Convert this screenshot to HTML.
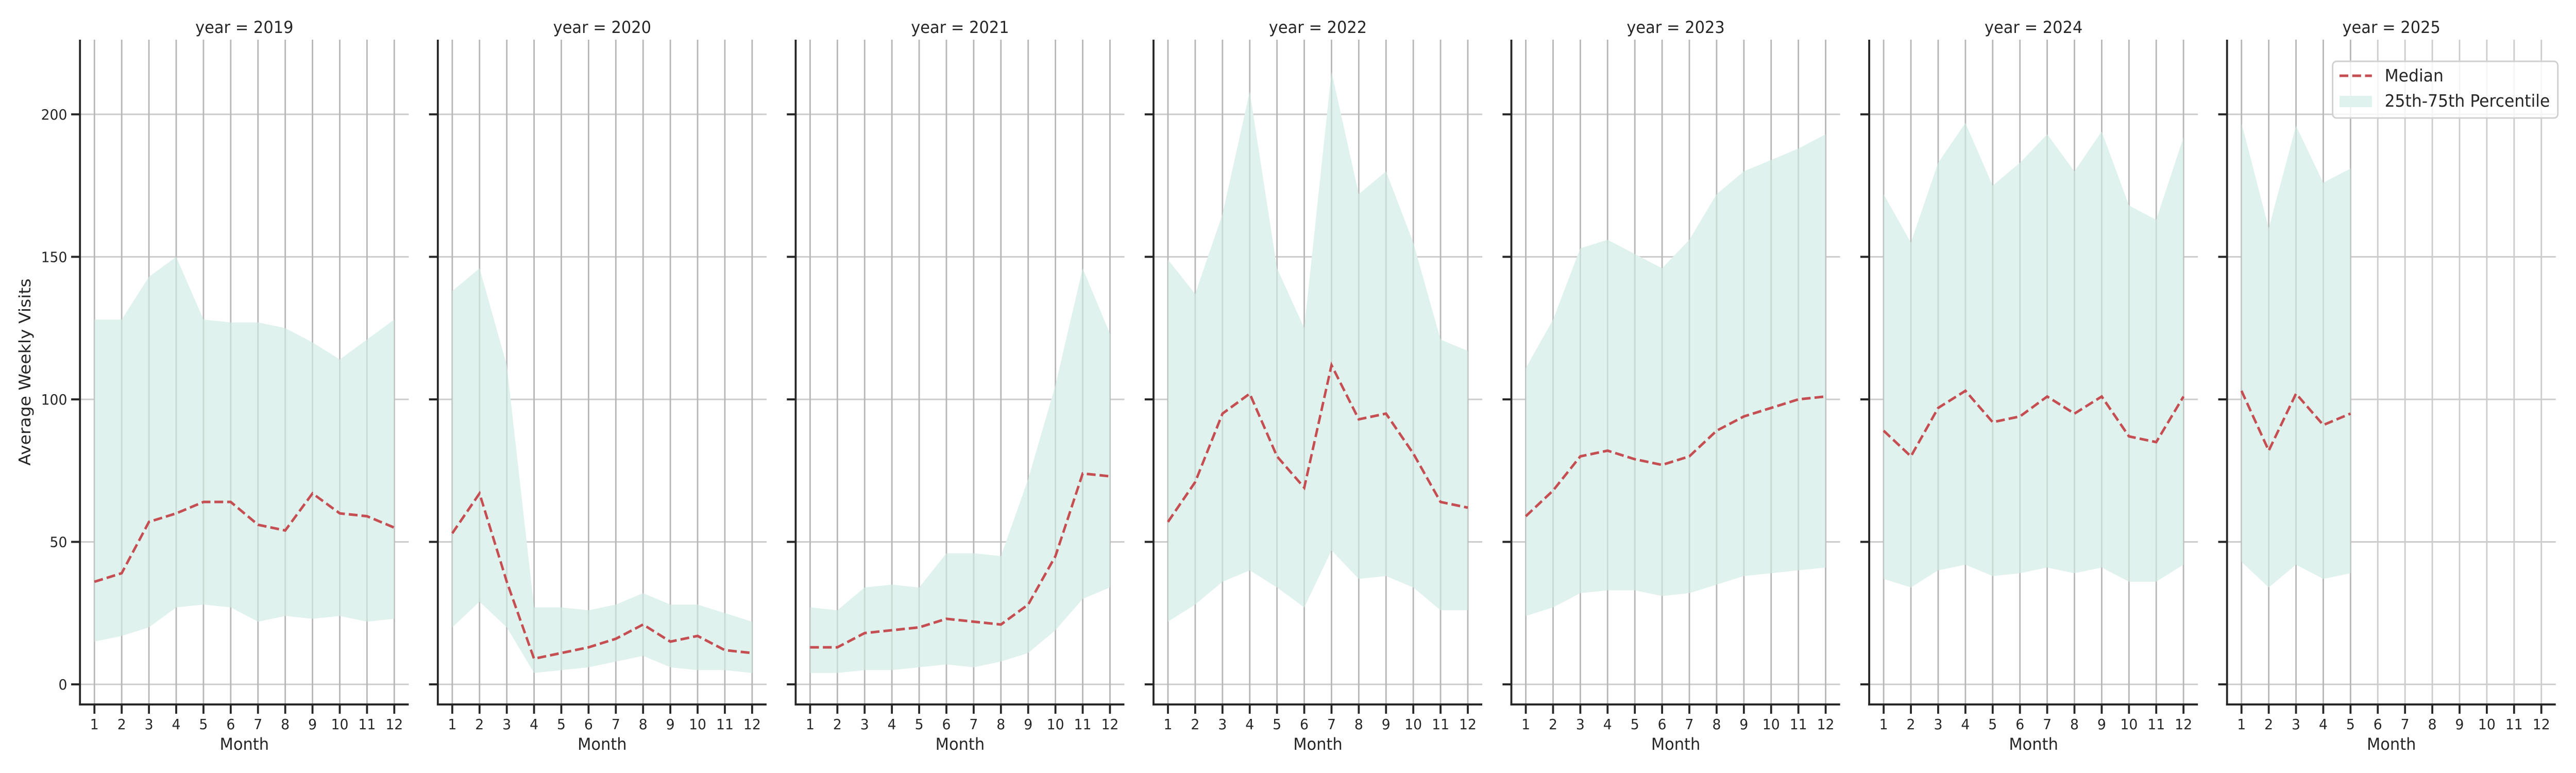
<!DOCTYPE html>
<html><head><meta charset="utf-8">
<style>
html,body{margin:0;padding:0;background:#fff;overflow:hidden;width:100%;height:100%;}
svg{display:block;position:fixed;left:0;top:0;width:100vw;height:100vh;font-family:"DejaVu Sans","Liberation Sans",sans-serif;}
</style></head>
<body>
<svg id="chart" viewBox="0 0 5250 1500" preserveAspectRatio="none" xmlns="http://www.w3.org/2000/svg">
<text x="0" y="0" transform="translate(62,722) rotate(-90)" text-anchor="middle" font-size="33" fill="#262626">Average Weekly Visits</text>
<g id="panels"></g>
<g>
<rect x="4754" y="119" width="459" height="110" rx="8" fill="#fff" fill-opacity="0.8" stroke="#d0d0d0" stroke-width="3"/>
<line x1="4768" y1="147" x2="4834" y2="147" stroke="#c44e52" stroke-width="5" stroke-dasharray="18,8"/>
<text x="4860" y="158" font-size="33" fill="#262626">Median</text>
<rect x="4768" y="186" width="66" height="22" fill="#e0f2ed"/>
<text x="4860" y="207" font-size="33" fill="#262626">25th-75th Percentile</text>
</g>
</svg>
<script>
const years = [2019,2020,2021,2022,2023,2024,2025];
const months = [1,2,3,4,5,6,7,8,9,10,11,12];
const yTicks = [0,50,100,150,200];
const median2019=[36,39,57,60,64,64,56,54,67,60,59,55];
const upper2019=[128,128,143,150,128,127,127,125,120,114,121,128];
const lower2019=[15,17,20,27,28,27,22,24,23,24,22,23];
const median2020=[53,67,36,9,11,13,16,21,15,17,12,11];
const upper2020=[138,146,112,27,27,26,28,32,28,28,25,22];
const lower2020=[20,29,20,4,5,6,8,10,6,5,5,4];
const median2021=[13,13,18,19,20,23,22,21,28,45,74,73];
const upper2021=[27,26,34,35,34,46,46,45,72,105,146,123];
const lower2021=[4,4,5,5,6,7,6,8,11,19,30,34];
const median2022=[57,71,95,102,80,69,112,93,95,81,64,62];
const upper2022=[149,137,165,208,146,125,215,172,180,155,121,117];
const lower2022=[22,28,36,40,34,27,47,37,38,34,26,26];
const median2023=[59,68,80,82,79,77,80,89,94,97,100,101];
const upper2023=[111,128,153,156,151,146,156,172,180,184,188,193];
const lower2023=[24,27,32,33,33,31,32,35,38,39,40,41];
const median2024=[89,80,97,103,92,94,101,95,101,87,85,101];
const upper2024=[172,155,183,197,175,183,193,180,194,168,163,192];
const lower2024=[37,34,40,42,38,39,41,39,41,36,36,42];
const median2025=[103,82,102,91,95];
const upper2025=[197,160,196,176,181];
const lower2025=[43,34,42,37,39];
const medians=[median2019,median2020,median2021,median2022,median2023,median2024,median2025];
const uppers=[upper2019,upper2020,upper2021,upper2022,upper2023,upper2024,upper2025];
const lowers=[lower2019,lower2020,lower2021,lower2022,lower2023,lower2024,lower2025];

const NS="http://www.w3.org/2000/svg";
const top0=77, bot0=1367, pw=670, step=729.3, left0=163;
const yMin=-7.05, yMax=226.2, xMin=0.47, xMax=12.53;
function ys(v){return bot0-(v-yMin)/(yMax-yMin)*(bot0-top0);}
function mk(tag,attrs,parent){const e=document.createElementNS(NS,tag);for(const k in attrs)e.setAttribute(k,attrs[k]);parent.appendChild(e);return e;}
const root=document.getElementById('panels');
years.forEach((yr,i)=>{
  const L=left0+i*step;
  const xs=m=>L+(m-xMin)/(xMax-xMin)*pw;
  const g=mk('g',{},root);
  
  
  months.forEach(m=>{const l=mk('line',{x1:xs(m),x2:xs(m),y1:top0,y2:bot0,stroke:'#cccccc','stroke-width':3},g);
    
    });
  yTicks.forEach(t=>{const l=mk('line',{x1:L,x2:L+pw,y1:ys(t),y2:ys(t),stroke:'#cccccc','stroke-width':3},g);
    
    });
  const up=uppers[i], lo=lowers[i], md=medians[i];
  let pts=up.map((v,j)=>xs(months[j])+','+ys(v));
  for(let j=lo.length-1;j>=0;j--)pts.push(xs(months[j])+','+ys(lo[j]));
  const band=mk('polygon',{points:pts.join(' '),fill:'#e0f2ed'},g);
  
  
  months.forEach(m=>{if(m<=up.length)mk('line',{x1:xs(m),x2:xs(m),y1:top0,y2:bot0,stroke:'#000','stroke-opacity':0.1,'stroke-width':3},g);});
  const med=mk('polyline',{points:md.map((v,j)=>xs(months[j])+','+ys(v)).join(' '),fill:'none',stroke:'#c44e52','stroke-width':5,'stroke-dasharray':'18,8'},g);
  
  
  mk('line',{x1:L,x2:L,y1:top0,y2:bot0+2,stroke:'#262626','stroke-width':4},g);
  mk('line',{x1:L-2,x2:L+pw,y1:bot0,y2:bot0,stroke:'#262626','stroke-width':4},g);
  yTicks.forEach(t=>{mk('line',{x1:L-18,x2:L,y1:ys(t),y2:ys(t),stroke:'#262626','stroke-width':4},g);
    if(i===0){const tx=mk('text',{x:L-26,y:ys(t)+10,'text-anchor':'end','font-size':28,fill:'#262626'},g);tx.textContent=t;
      
      }});
  months.forEach(m=>{mk('line',{x1:xs(m),x2:xs(m),y1:bot0,y2:bot0+18,stroke:'#262626','stroke-width':4},g);
    const tx=mk('text',{x:xs(m),y:1415,'text-anchor':'middle','font-size':28,fill:'#262626'},g);tx.textContent=m;
    
    });
  const xt=mk('text',{x:L+pw/2,y:1455,'text-anchor':'middle','font-size':32,fill:'#262626'},g);xt.textContent='Month';
  
  
  const tt=mk('text',{x:L+pw/2,y:64,'text-anchor':'middle','font-size':32,fill:'#262626'},g);tt.textContent='year = '+yr;
  
  
});
</script>
</body></html>
